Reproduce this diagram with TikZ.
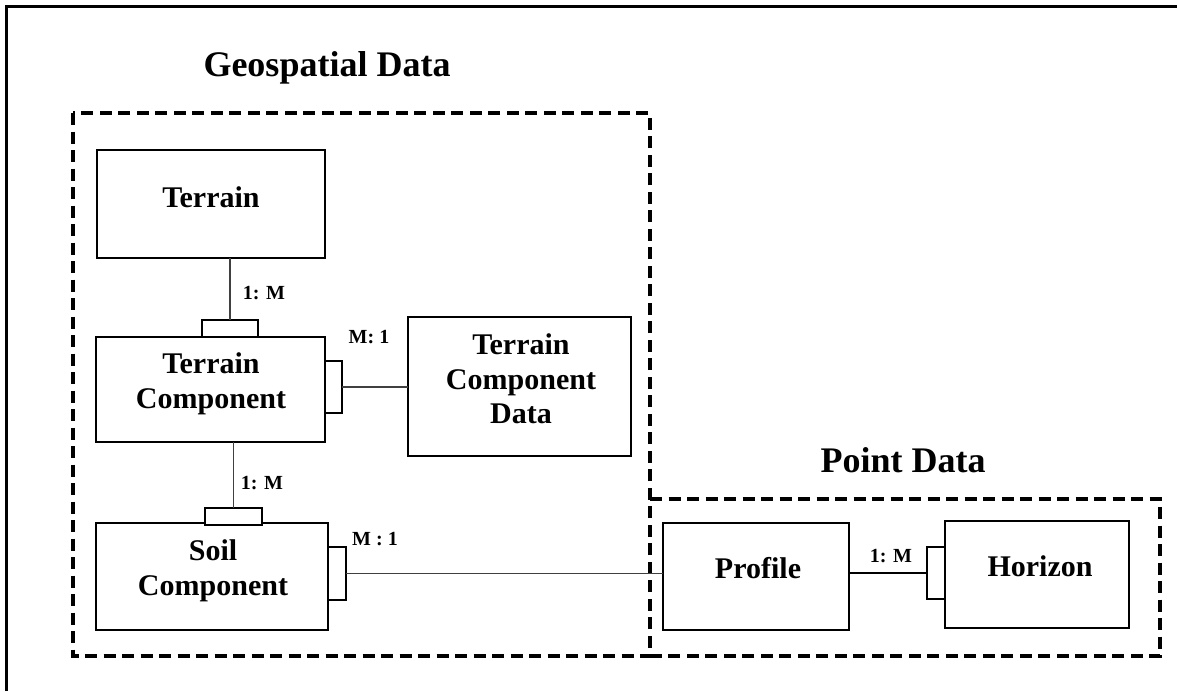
\documentclass[tikz,border=0pt]{standalone}
\usepackage{fontspec}
\setmainfont{Liberation Serif}
\begin{document}
\begin{tikzpicture}[x=1pt,y=-1pt,
  box/.style={draw=black,line width=2pt,inner sep=0pt,outer sep=0pt,rectangle},
  tab/.style={draw=black,line width=2pt,inner sep=0pt,outer sep=0pt,rectangle,fill=white},
  group/.style={draw=black,line width=3.5pt,dash pattern=on 12pt off 6.5pt},
  txt/.style={font=\fontsize{30}{34.5}\selectfont\bfseries,align=center,inner sep=0pt},
  ttl/.style={font=\fontsize{36}{40}\selectfont\bfseries,inner sep=0pt,anchor=base},
  card/.style={font=\fontsize{20}{24}\selectfont\bfseries,inner sep=0pt},
  conn/.style={draw=black!75,line width=1.3pt}]
\useasboundingbox (0,0) rectangle (1177,691);
% outer frame (top and left edges visible)
\draw[line width=2.8pt] (6.5,691) -- (6.5,6.5) -- (1177,6.5);
% groups (point group shares its left edge with the geospatial group)
\coordinate (g1) at (73,113);
\coordinate (g2) at (650,656);
\coordinate (p1) at (650,499);
\coordinate (p2) at (1160,656);
\draw[group] (g1) rectangle (g2);
\draw[group] (p1) -- (p1 -| p2) -- (p2) -- (g2);
\node[ttl] (gtitle) at (327,76) {Geospatial Data};
\node[ttl] (ptitle) at (903,472) {Point Data};
% boxes
\node[box,minimum width=228pt,minimum height=108pt] (terrain) at (211,204) {};
\node[box,minimum width=229pt,minimum height=105pt] (tc) at (210.5,389.5) {};
\node[box,minimum width=223pt,minimum height=139pt] (tcd) at (519.5,386.5) {};
\node[box,minimum width=232pt,minimum height=107pt] (soil) at (212,576.5) {};
\node[box,minimum width=186pt,minimum height=107pt] (profile) at (756,576.5) {};
\node[box,minimum width=184pt,minimum height=107pt] (horizon) at (1037,574.5) {};
% texts
\node[txt] (tterrain) at (211,197) {Terrain};
\node[txt] (ttc) at (211,383.6) {Terrain\\Component};
\node[txt] (ttcd) at (521,379) {Terrain\\Component\\Data};
\node[txt] (tsoil) at (213,570.6) {Soil\\Component};
\node[txt] (tprofile) at (758,568) {Profile};
\node[txt] (thorizon) at (1040,566) {Horizon};
% tabs
\node[tab,minimum width=56pt,minimum height=17pt] (tab1) at (230,328.5) {};
\node[tab,minimum width=57pt,minimum height=17pt] (tab2) at (233.5,516.5) {};
\node[tab,minimum width=17pt,minimum height=52pt] (tab3) at (333.5,387) {};
\node[tab,minimum width=18pt,minimum height=53pt] (tab4) at (337,573.5) {};
\node[tab,minimum width=18pt,minimum height=52pt] (tab5) at (936,573) {};
% connectors
\draw[conn] (tab1.north) -- (tab1.north |- terrain.south);
\draw[conn] (tab2.north) -- (tab2.north |- tc.south);
\draw[conn] (tab3.east) -- (tab3.east -| tcd.west);
\draw[conn] (tab4.east) -- (tab4.east -| profile.west);
\draw[conn,draw=black,line width=1.6pt] (tab5.west) -- (tab5.west -| profile.east);
% cardinalities
\node[card] (c1) at (264,293) {1: M};
\node[card] (c2) at (369,337) {M: 1};
\node[card] (c3) at (262,483) {1: M};
\node[card] (c4) at (375,539) {M : 1};
\node[card] (c5) at (891,556) {1: M};
\end{tikzpicture}
\end{document}
